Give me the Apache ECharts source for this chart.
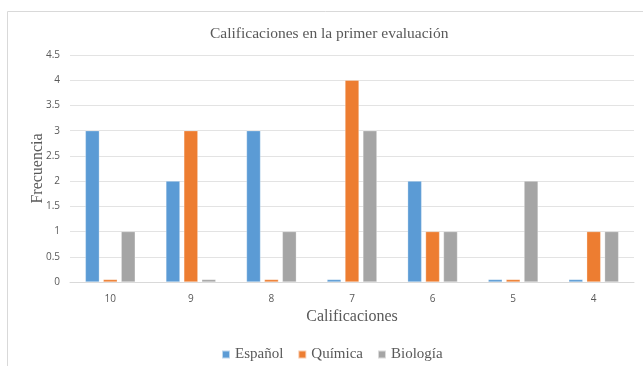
<!DOCTYPE html>
<html><head><meta charset="utf-8">
<script src="https://cdn.jsdelivr.net/npm/echarts@6/dist/echarts.min.js"></script>
<style>html,body{margin:0;padding:0;background:#fff}#c{width:643px;height:366px}</style>
</head><body><div id="c"></div>
<script>
const categories = ['10','9','8','7','6','5','4'];
const espanol = [3, 2, 3, 0.05, 2, 0.05, 0.05];
const quimica = [0.05, 3, 0.05, 4, 1, 0.05, 1];
const biologia = [1, 0.05, 1, 3, 1, 2, 1];
const yTicks = [0, 0.5, 1, 1.5, 2, 2.5, 3, 3.5, 4, 4.5];

const chart = echarts.init(document.getElementById('c'), null, {renderer:'canvas'});
const serif = '"Liberation Serif", serif';
const sans = '"Open Sans","Liberation Sans",sans-serif';
function s(name, data, color){
  return {name, type:'bar', data, barWidth:14, barGap:'28%',
    itemStyle:{color, borderColor:'rgba(255,255,255,0.6)', borderWidth:0.5}};
}
chart.setOption({
  animation:false,
  textStyle:{fontFamily:serif},
  graphic:[{type:'rect', shape:{x:7.5,y:11.5,width:700,height:400}, style:{fill:'none',stroke:'#d9d9d9',lineWidth:1}, silent:true}],
  title:{text:'Calificaciones en la primer evaluación', left:205, top:21,
    textStyle:{fontFamily:serif, fontWeight:'normal', fontSize:15.5, color:'#595959'}},
  legend:{top:342, left:216, itemWidth:8, itemHeight:8, itemGap:14, icon:'rect',
    textStyle:{fontFamily:serif, fontSize:15, color:'#595959'}},
  grid:{left:70, right:9, top:55, bottom:84},
  xAxis:{type:'category', data:categories, name:'Calificaciones', nameLocation:'middle', nameGap:25,
    nameTextStyle:{fontFamily:serif, fontSize:16, color:'#595959'},
    axisLine:{lineStyle:{color:'#d9d9d9'}}, axisTick:{show:false},
    axisLabel:{fontFamily:sans, fontSize:10, color:'#595959', margin:12}},
  yAxis:{type:'value', min:0, max:4.5, interval:0.5, name:'Frecuencia', nameLocation:'middle', nameGap:24,
    nameMoveOverlap:false,
    nameTextStyle:{fontFamily:serif, fontSize:16, color:'#595959'},
    axisLine:{show:false}, axisTick:{show:false},
    splitLine:{lineStyle:{color:'#e3e3e3'}},
    axisLabel:{fontFamily:sans, fontSize:10, color:'#595959', margin:10,
      formatter:v=>yTicks.includes(v)?String(v):''}},
  series:[s('Español', espanol, '#5b9bd5'), s('Química', quimica, '#ed7d31'), s('Biología', biologia, '#a5a5a5')]
});
</script></body></html>
